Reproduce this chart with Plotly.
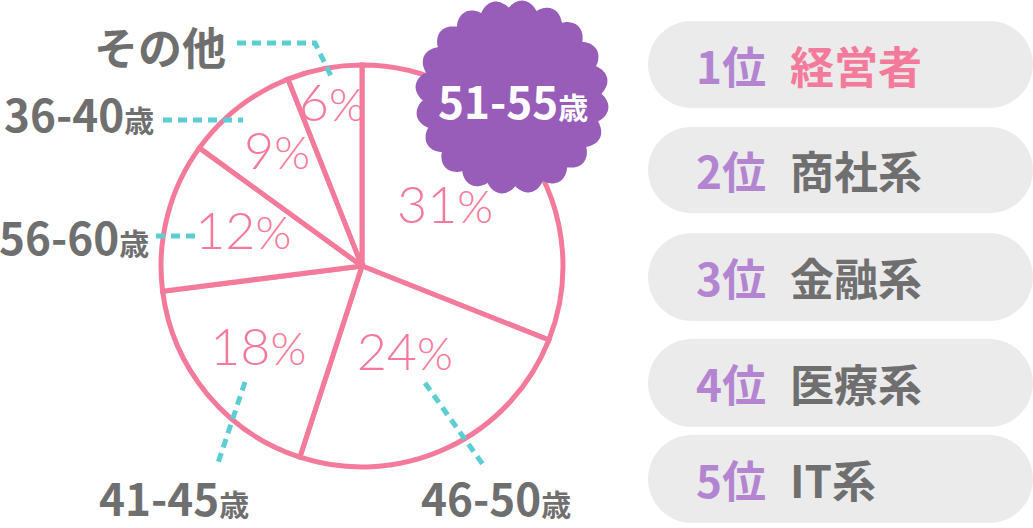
import numpy as np
import plotly.graph_objects as go

# data
ages = ["51-55歳", "46-50歳", "41-45歳", "56-60歳", "36-40歳", "その他"]
shares = [31, 24, 18, 12, 9, 6]
ranks = ["1位", "2位", "3位", "4位", "5位"]
jobs = ["経営者", "商社系", "金融系", "医療系", "IT系"]

W, H = 1033, 528
PINK = "#F47A9C"
TEAL = "#5CCDD2"
PURPLE = "#975DB9"
RANK = "#B385D1"
GRAY = "#6F6F6F"
PILL = "#EBEBEB"
JP = "Noto Sans CJK JP"

# distance of each percent label from the centre (1 = rim)
text_r = [0.5, 0.5, 0.67, 0.61, 0.69, 0.8]

cum = np.cumsum([0] + shares[:-1])
mid = [(c + s / 2) * 3.6 for c, s in zip(cum, shares)]
widths = [s * 3.6 for s in shares]

fig = go.Figure()
fig.add_trace(go.Barpolar(
    r=[1] * len(shares), theta=mid, width=widths,
    marker=dict(color="white", line=dict(color=PINK, width=5)),
    hoverinfo="skip", showlegend=False,
))
fig.add_trace(go.Scatterpolar(
    r=text_r, theta=mid, mode="text",
    text=[f"{s}<span style='font-size:46px'>%</span>" for s in shares],
    textfont=dict(family="Lato", size=52, color=PINK, weight=300),
    hoverinfo="skip", showlegend=False,
))
# invisible trace so the pixel-space axes exist
fig.add_trace(go.Scatter(x=[0, W], y=[0, H], mode="markers",
                         marker=dict(opacity=0), hoverinfo="skip",
                         showlegend=False))


def pill_path(x0, y0, x1, y1):
    r = (y1 - y0) / 2
    cy = (y0 + y1) / 2
    pts = []
    for t in np.linspace(-np.pi / 2, np.pi / 2, 30):
        pts.append((x1 - r + r * np.cos(t), cy + r * np.sin(t)))
    for t in np.linspace(np.pi / 2, 3 * np.pi / 2, 30):
        pts.append((x0 + r + r * np.cos(t), cy + r * np.sin(t)))
    return "M " + " L ".join(f"{x:.1f},{y:.1f}" for x, y in pts) + " Z"


def badge_path(cx, cy, r_in, amp, n):
    t = np.linspace(0, 2 * np.pi, 600)
    w = np.abs(np.cos(n / 2 * (t + np.pi / 2 - 0.12))) ** 0.8
    rr = r_in + amp * w
    return "M " + " L ".join(f"{cx + a * np.cos(b):.1f},{cy + a * np.sin(b):.1f}"
                             for a, b in zip(rr, t)) + " Z"


pills = [(648, 21, 1033, 108), (648, 127, 1033, 213), (648, 233, 1033, 321),
         (648, 339, 1033, 427), (648, 435, 1033, 523)]

shapes = []
for p in pills:
    shapes.append(dict(type="path", path=pill_path(*p), xref="x", yref="y",
                       fillcolor=PILL, line=dict(width=0), layer="above"))

dash = dict(color=TEAL, width=5, dash="9px,6px")
shapes += [
    dict(type="path", path="M 237,43 L 315,43 L 331,76", line=dash),
    dict(type="line", x0=163, y0=120, x1=243, y1=120, line=dash),
    dict(type="line", x0=156, y0=236, x1=199, y1=236, line=dash),
    dict(type="line", x0=245, y0=382, x1=217, y1=466, line=dash),
    dict(type="line", x0=425, y0=383, x1=484, y1=466, line=dash),
]
for s in shapes[len(pills):]:
    s.update(xref="x", yref="y", layer="above")

shapes.append(dict(type="path", path=badge_path(512, 97, 89, 8, 20),
                   xref="x", yref="y", fillcolor=PURPLE, line=dict(width=0),
                   layer="above"))

small = "<span style='font-size:30px'>歳</span>"
annotations = []
label_pos = {  # x, y, xanchor
    "46-50歳": (496, 497, "center"),
    "41-45歳": (174, 497, "center"),
    "56-60歳": (151, 236, "right"),
    "36-40歳": (156, 113, "right"),
    "その他": (228, 46, "right"),
}
for a in ages:
    if a in label_pos:
        x, y, xa = label_pos[a]
        txt = a.replace("歳", small)
        annotations.append(dict(x=x, y=y, xanchor=xa, yanchor="middle",
                                text=txt, showarrow=False,
                                font=dict(family=JP, size=44, color=GRAY,
                                          weight=700)))
annotations.append(dict(x=513, y=100, text=ages[0].replace("歳", small),
                        showarrow=False, xanchor="center", yanchor="middle",
                        font=dict(family=JP, size=44, color="white",
                                  weight=700)))

for i, (rk, jb) in enumerate(zip(ranks, jobs)):
    cy = (pills[i][1] + pills[i][3]) / 2
    annotations.append(dict(x=694, y=cy, text=rk, showarrow=False,
                            xanchor="left", yanchor="middle",
                            font=dict(family=JP, size=44, color=RANK,
                                      weight=700)))
    annotations.append(dict(x=788, y=cy, text=jb, showarrow=False,
                            xanchor="left", yanchor="middle",
                            font=dict(family=JP, size=44,
                                      color=PINK if i == 0 else GRAY,
                                      weight=700)))

for a in annotations:
    a.update(xref="x", yref="y")

fig.update_layout(
    width=W, height=H,
    margin=dict(l=0, r=0, t=0, b=0),
    paper_bgcolor="white", plot_bgcolor="white",
    xaxis=dict(range=[0, W], visible=False, fixedrange=True),
    yaxis=dict(range=[H, 0], visible=False, fixedrange=True),
    polar=dict(
        domain=dict(x=[(362 - 207) / W, (362 + 207) / W],
                    y=[(262 - 207) / H, (262 + 207) / H]),
        bgcolor="rgba(0,0,0,0)",
        radialaxis=dict(range=[0, 1.03], visible=False),
        angularaxis=dict(visible=False, rotation=90, direction="clockwise"),
        bargap=0,
    ),
    shapes=shapes,
    annotations=annotations,
    showlegend=False,
)

fig.write_html("out.html", config={"displayModeBar": False},
               post_script="document.body.style.margin='0';"
                           "document.body.style.overflow='hidden';")
